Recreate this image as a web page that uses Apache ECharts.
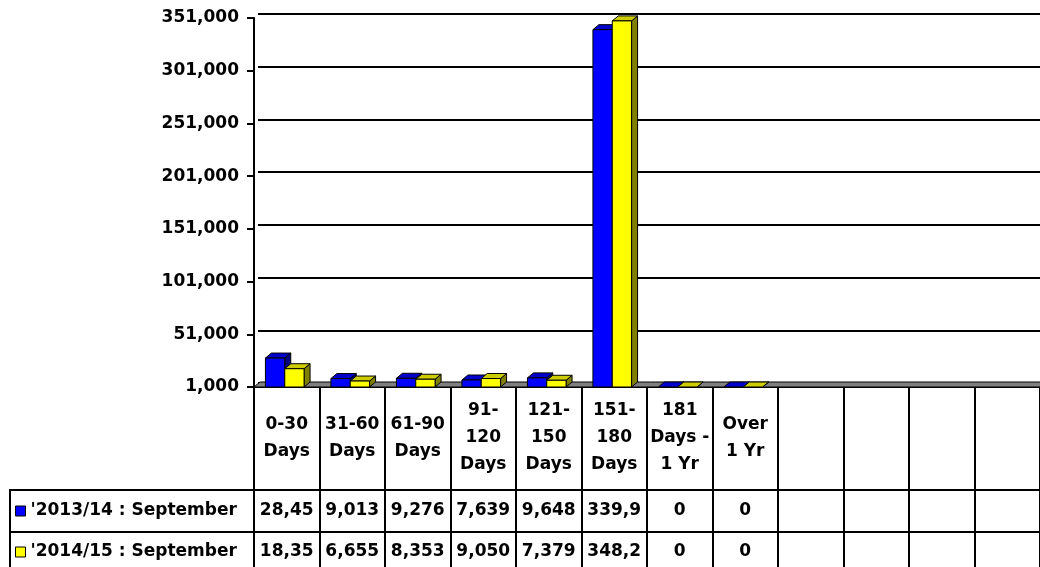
<!DOCTYPE html>
<html>
<head>
<meta charset="utf-8">
<script src="https://cdn.jsdelivr.net/npm/echarts@6/dist/echarts.min.js"></script>
<style>
  html, body { margin: 0; padding: 0; background: #fff; }
  #chart { width: 1040px; height: 567px; }
</style>
</head>
<body>
<div id="chart"></div>
<script>
// categories as they wrap in the table header cells (last four columns are empty)
const categories = ['0-30\nDays', '31-60\nDays', '61-90\nDays', '91-\n120\nDays', '121-\n150\nDays',
  '151-\n180\nDays', '181\nDays -\n1 Yr', 'Over\n1 Yr', '', '', '', ''];
const seriesNames = ["'2013/14 : September", "'2014/15 : September"];
const sept2013 = [28450, 9013, 9276, 7639, 9648, 339950, 0, 0];
const sept2014 = [18350, 6655, 8353, 9050, 7379, 348250, 0, 0];
const yMin = 1000, yMax = 351000, yStep = 50000;

const FONT = 'DejaVu Sans';
const DX = 6, DY = 5; // 3d depth of the bars

const chart = echarts.init(document.getElementById('chart'));

// excel clips the long numbers in the narrow cells
const cellText = v => {
  const s = v.toLocaleString('en-US');
  return s.length > 5 ? s.slice(0, 5) : s;
};
const rowLabels = vals => categories.map((c, i) => (i < vals.length ? cellText(vals[i]) : ''));

function barRenderer(slot, front, top, side) {
  return function (params, api) {
    const i = api.value(0);
    const v = Math.max(api.value(1), yMin);
    const base = api.coord([i, yMin]);
    const tip = api.coord([i, v]);
    const band = api.size([1, 0])[0];
    const w = band * 0.295;
    const x0 = base[0] - w - DX / 2 + slot * w + 1;
    const x1 = x0 + w;
    const y0 = tip[1], yb = base[1];
    const ln = { stroke: '#000', lineWidth: 1 };
    const children = [
      { type: 'polygon', shape: { points: [[x1, y0], [x1 + DX, y0 - DY], [x1 + DX, yb - DY], [x1, yb]] }, style: Object.assign({ fill: side }, ln) },
      { type: 'polygon', shape: { points: [[x0, y0], [x0 + DX, y0 - DY], [x1 + DX, y0 - DY], [x1, y0]] }, style: Object.assign({ fill: top }, ln) }
    ];
    if (yb - y0 > 0.5) {
      children.push({ type: 'rect', shape: { x: x0, y: y0, width: w, height: yb - y0 }, style: Object.assign({ fill: front }, ln) });
    }
    return { type: 'group', children };
  };
}

const boldText = { color: '#000', fontFamily: FONT, fontWeight: 'bold', fontSize: 17 };

const option = {
  animation: false,
  backgroundColor: '#fff',
  grid: [
    { left: 254, right: 0, top: 18, bottom: 180, outerBoundsMode: 'none' },
    // back wall, used only for the gridlines
    { left: 258, right: 0, top: 14, bottom: 184, outerBoundsMode: 'none' }
  ],
  legend: {
    orient: 'vertical',
    left: 15,
    top: 501,
    padding: 0,
    itemGap: 21,
    itemWidth: 10,
    itemHeight: 10,
    icon: 'rect',
    selectedMode: false,
    textStyle: Object.assign({ lineHeight: 20 }, boldText),
    data: [
      { name: seriesNames[0], itemStyle: { color: '#0000FF', borderColor: '#000', borderWidth: 1 } },
      { name: seriesNames[1], itemStyle: { color: '#FFFF00', borderColor: '#000', borderWidth: 1 } }
    ]
  },
  graphic: [
    { type: 'rect', silent: true, shape: { x: 10, y: 490, width: 244, height: 100 }, style: { fill: 'none', stroke: '#000', lineWidth: 2 } },
    { type: 'line', silent: true, shape: { x1: 10, y1: 532, x2: 254, y2: 532 }, style: { stroke: '#000', lineWidth: 2 } }
  ],
  xAxis: [
    {
      type: 'category', gridIndex: 0, position: 'bottom', data: categories,
      axisLine: { lineStyle: { color: '#000', width: 2 } },
      axisTick: { show: true, length: 180, lineStyle: { color: '#000', width: 2 } },
      axisLabel: Object.assign({ interval: 0, margin: 51, verticalAlign: 'middle', lineHeight: 27 }, boldText)
    },
    {
      type: 'category', gridIndex: 0, position: 'bottom', offset: 103, data: rowLabels(sept2013),
      axisLine: { lineStyle: { color: '#000', width: 2 } },
      axisTick: { show: false },
      axisLabel: Object.assign({ interval: 0, margin: 21, verticalAlign: 'middle' }, boldText)
    },
    {
      type: 'category', gridIndex: 0, position: 'bottom', offset: 145, data: rowLabels(sept2014),
      axisLine: { lineStyle: { color: '#000', width: 2 } },
      axisTick: { show: false },
      axisLabel: Object.assign({ interval: 0, margin: 20, verticalAlign: 'middle' }, boldText)
    },
    { type: 'category', gridIndex: 1, data: categories, show: false }
  ],
  yAxis: [
    {
      type: 'value', gridIndex: 0, min: yMin, max: yMax, interval: yStep,
      axisLine: { show: true, lineStyle: { color: '#000', width: 2 } },
      axisTick: { show: true, length: 7, lineStyle: { color: '#000', width: 2 } },
      axisLabel: Object.assign({ margin: 15, formatter: v => v.toLocaleString('en-US') }, boldText),
      splitLine: { show: false }
    },
    {
      type: 'value', gridIndex: 1, min: yMin, max: yMax, interval: yStep,
      axisLine: { show: false }, axisTick: { show: false }, axisLabel: { show: false },
      splitLine: { show: true, lineStyle: { color: '#000', width: 2 } }
    }
  ],
  series: [
    {
      name: 'floor', type: 'custom', xAxisIndex: 0, yAxisIndex: 0, silent: true,
      data: [[0, yMin]],
      renderItem: (params, api) => {
        const band = api.size([1, 0])[0];
        const a = api.coord([0, yMin]);
        const b = api.coord([categories.length - 1, yMin]);
        const xl = a[0] - band / 2, xr = b[0] + band / 2, y = a[1];
        return {
          type: 'polygon',
          shape: { points: [[xl, y], [xl + DX, y - DY], [xr + DX, y - DY], [xr, y]] },
          style: { fill: '#808080', stroke: '#000', lineWidth: 1 }
        };
      }
    },
    {
      name: seriesNames[0], type: 'custom', xAxisIndex: 0, yAxisIndex: 0,
      itemStyle: { color: '#0000FF' },
      encode: { x: 0, y: 1 },
      data: sept2013.map((v, i) => [i, v]),
      renderItem: barRenderer(0, '#0000FF', '#0000CC', '#000080')
    },
    {
      name: seriesNames[1], type: 'custom', xAxisIndex: 0, yAxisIndex: 0,
      itemStyle: { color: '#FFFF00' },
      encode: { x: 0, y: 1 },
      data: sept2014.map((v, i) => [i, v]),
      renderItem: barRenderer(1, '#FFFF00', '#CCCC00', '#808000')
    }
  ]
};

chart.setOption(option);
</script>
</body>
</html>
